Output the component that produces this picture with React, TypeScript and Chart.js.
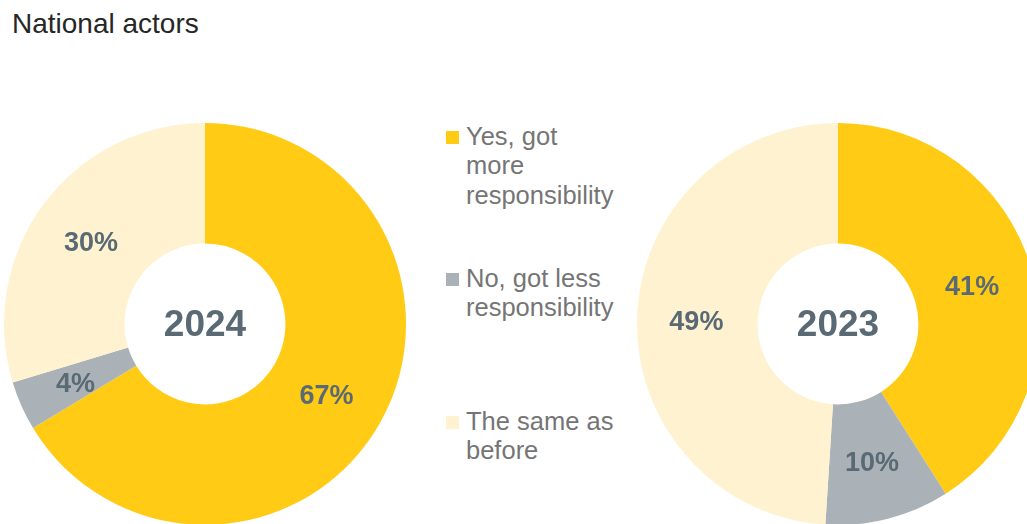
import React, { useEffect, useRef } from "react";
import { Chart, registerables } from "chart.js";

Chart.register(...registerables);

const title = "National actors";
const categories = ["Yes, got more responsibility", "No, got less responsibility", "The same as before"];
const colors = ["#FFCB15", "#AAB2B7", "#FEF2D0"];
const values2024 = [67, 4, 30];
const values2023 = [41, 10, 49];
const years = ["2024", "2023"];

const FONT = "'Liberation Sans', Arial, Helvetica, sans-serif";
const LABEL_COLOR = "#5A6A75";

const labelPlugin = {
  id: "sliceLabels",
  afterDatasetsDraw(chart: any) {
    const ctx = chart.ctx;
    const meta = chart.getDatasetMeta(0);
    const data = chart.data.datasets[0].data;
    ctx.save();
    ctx.fillStyle = LABEL_COLOR;
    ctx.textAlign = "center";
    ctx.textBaseline = "middle";
    ctx.font = `bold 27px ${FONT}`;
    meta.data.forEach((arc: any, i: number) => {
      const p = arc.tooltipPosition();
      ctx.fillText(`${data[i]}%`, p.x - 1, p.y + 3);
    });
    const first = meta.data[0];
    ctx.font = `bold 37px ${FONT}`;
    ctx.fillText(chart.options.plugins.centerText.text, first.x, first.y + 2);
    ctx.restore();
  },
};

function Donut({ values, year, left, top }: { values: number[]; year: string; left: number; top: number }) {
  const ref = useRef<HTMLCanvasElement>(null);
  useEffect(() => {
    const chart = new Chart(ref.current!, {
      type: "doughnut",
      data: {
        labels: categories,
        datasets: [{ data: values, backgroundColor: colors, borderWidth: 0 }],
      },
      options: {
        animation: false,
        responsive: false,
        maintainAspectRatio: false,
        cutout: "40%",
        layout: { padding: 0 },
        plugins: {
          legend: { display: false },
          tooltip: { enabled: false },
          centerText: { text: year },
        } as any,
      },
      plugins: [labelPlugin],
    });
    return () => chart.destroy();
  }, [values, year]);
  return (
    <canvas
      ref={ref}
      width={402}
      height={402}
      style={{ position: "absolute", left, top, width: 402, height: 402 }}
    />
  );
}

const legendTops = [121.6, 263.6, 406.6];

export default function App() {
  return (
    <div
      style={{
        position: "absolute",
        left: 0,
        top: 0,
        width: 1027,
        height: 524,
        overflow: "hidden",
        background: "#fff",
        fontFamily: FONT,
      }}
    >
      <div
        style={{
          position: "absolute",
          left: 12,
          top: 10,
          fontSize: 28,
          lineHeight: "28px",
          color: "#262626",
          whiteSpace: "nowrap",
        }}
      >
        {title}
      </div>
      <Donut values={values2024} year={years[0]} left={4} top={123} />
      <Donut values={values2023} year={years[1]} left={637} top={123} />
      {categories.map((c, i) => (
        <div key={c}>
          <div
            style={{
              position: "absolute",
              left: 446,
              top: legendTops[i] + 9.5,
              width: 13,
              height: 13,
              background: colors[i],
            }}
          />
          <div
            style={{
              position: "absolute",
              left: 466,
              top: legendTops[i],
              width: 152,
              fontSize: 25.5,
              lineHeight: "29.5px",
              color: "#757575",
            }}
          >
            {c}
          </div>
        </div>
      ))}
    </div>
  );
}
